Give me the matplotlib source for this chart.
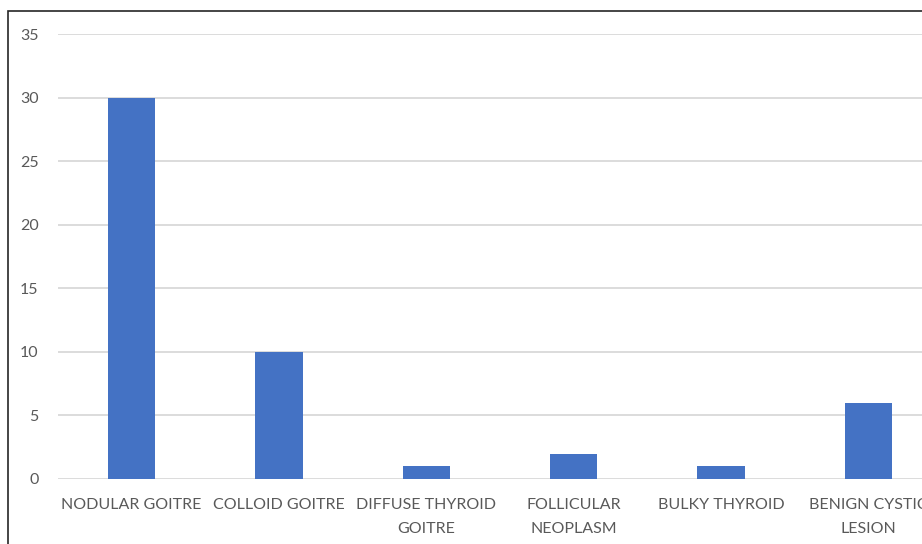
import matplotlib.pyplot as plt
from matplotlib.patches import Rectangle

categories = ["NODULAR GOITRE", "COLLOID GOITRE", "DIFFUSE THYROID\nGOITRE",
              "FOLLICULAR\nNEOPLASM", "BULKY THYROID", "BENIGN CYSTIC\nLESION"]
counts = [30, 10, 1, 2, 1, 6]
yticks = [0, 5, 10, 15, 20, 25, 30, 35]

plt.rcParams['font.family'] = ['Lato', 'DejaVu Sans']
txt = '#595959'

fig = plt.figure(figsize=(9.22, 5.44), dpi=100)
ax = fig.add_axes([58/922, 1 - 479/544, 884/922, 445/544])

x = range(len(categories))
ax.bar(x, counts, width=0.32, color='#4472C4', zorder=3)
ax.set_xlim(-0.5, len(categories) - 0.5)
ax.set_ylim(0, 35)
ax.set_yticks(yticks)
ax.set_xticks(list(x))
ax.set_xticklabels(categories, fontsize=11.5, color=txt, linespacing=1.85)
ax.tick_params(axis='y', labelsize=11.5, labelcolor=txt, length=0, pad=14)
ax.tick_params(axis='x', length=0, pad=14)
ax.grid(axis='y', color='#d9d9d9', linewidth=1.3, zorder=0)
for s in ax.spines.values():
    s.set_visible(False)

# chart border (cropped on right and bottom)
fig.patches.append(Rectangle((8/922, -0.1), 1.2, 1.1 - 11/544,
                             transform=fig.transFigure, fill=False,
                             edgecolor='#262626', linewidth=1.2))

fig.savefig('out.png', dpi=100)
